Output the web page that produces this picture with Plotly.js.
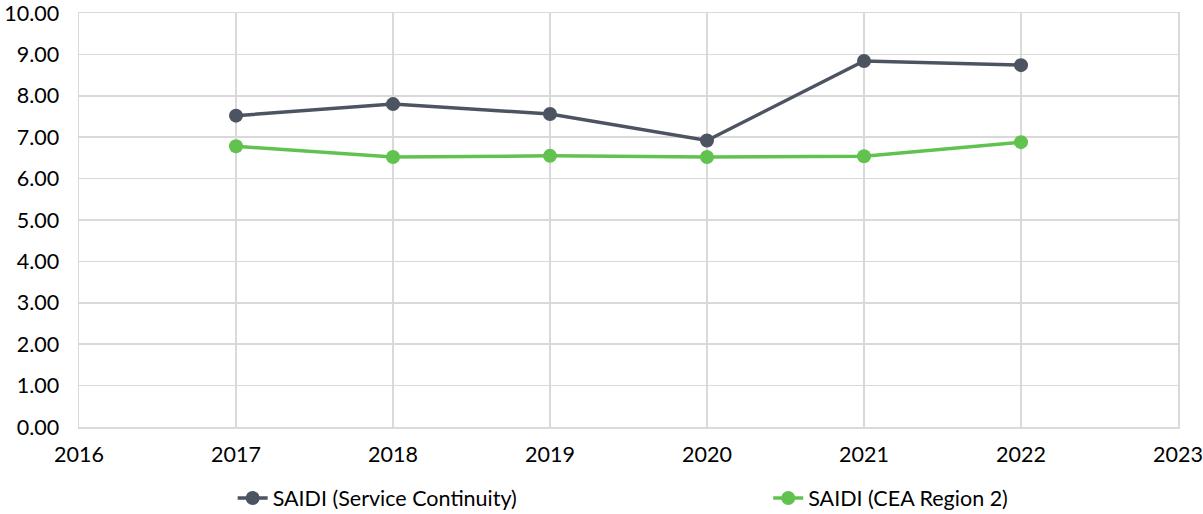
<!DOCTYPE html>
<html>
<head>
<meta charset="utf-8">
<script src="https://cdn.plot.ly/plotly-3.0.1.min.js"></script>
<style>html,body{margin:0;padding:0;background:#fff;}#chart{width:1203px;height:514px;}</style>
</head>
<body>
<div id="chart"></div>
<script>
const years = [2017, 2018, 2019, 2020, 2021, 2022];
const saidiServiceContinuity = [7.52, 7.80, 7.56, 6.92, 8.84, 8.74];
const saidiCEARegion2 = [6.78, 6.52, 6.55, 6.52, 6.54, 6.88];
const seriesNames = ["SAIDI (Service Continuity)", "SAIDI (CEA Region 2)"];
const yTicks = [0, 1, 2, 3, 4, 5, 6, 7, 8, 9, 10];
const xTicks = [2016, 2017, 2018, 2019, 2020, 2021, 2022, 2023];

const traces = [
  {x: years, y: saidiServiceContinuity, name: seriesNames[0], type: "scatter", mode: "lines+markers",
   line: {color: "#4D5461", width: 3.5}, marker: {color: "#4D5461", size: 14}, legend: "legend"},
  {x: years, y: saidiCEARegion2, name: seriesNames[1], type: "scatter", mode: "lines+markers",
   line: {color: "#62C250", width: 3.5}, marker: {color: "#62C250", size: 14}, legend: "legend2"}
];
const legendFont = {size: 21.5};
const layout = {
  width: 1203, height: 514,
  margin: {l: 79, r: 25, t: 13, b: 87},
  paper_bgcolor: "#fff", plot_bgcolor: "#fff",
  font: {family: "Lato, 'Open Sans', sans-serif", size: 21.5, color: "#000"},
  xaxis: {range: [2016, 2023], tickvals: xTicks, ticktext: xTicks.map(String), showgrid: true, gridcolor: "#D9D9D9", gridwidth: 1.5,
          zeroline: false, showline: true, mirror: true, linecolor: "#D9D9D9", linewidth: 1.5,
          ticks: "", ticklabelstandoff: 8, ticklabeloverflow: "allow", fixedrange: true, automargin: false},
  yaxis: {range: [0, 10], tickvals: yTicks, ticktext: yTicks.map(v => v.toFixed(2)), showgrid: true, gridcolor: "#D9D9D9", gridwidth: 1.5,
          zeroline: false, showline: true, mirror: true, linecolor: "#D9D9D9", linewidth: 1.5,
          ticks: "", ticklabelstandoff: 14, ticklabeloverflow: "allow", fixedrange: true, automargin: false},
  showlegend: true,
  legend: {orientation: "h", x: 0.1934, xref: "container", xanchor: "left", y: 0.031, yref: "container", yanchor: "middle", font: legendFont},
  legend2: {orientation: "h", x: 0.6386, xref: "container", xanchor: "left", y: 0.031, yref: "container", yanchor: "middle", font: legendFont}
};
Plotly.newPlot("chart", traces, layout, {displayModeBar: false, staticPlot: true});
</script>
</body>
</html>
